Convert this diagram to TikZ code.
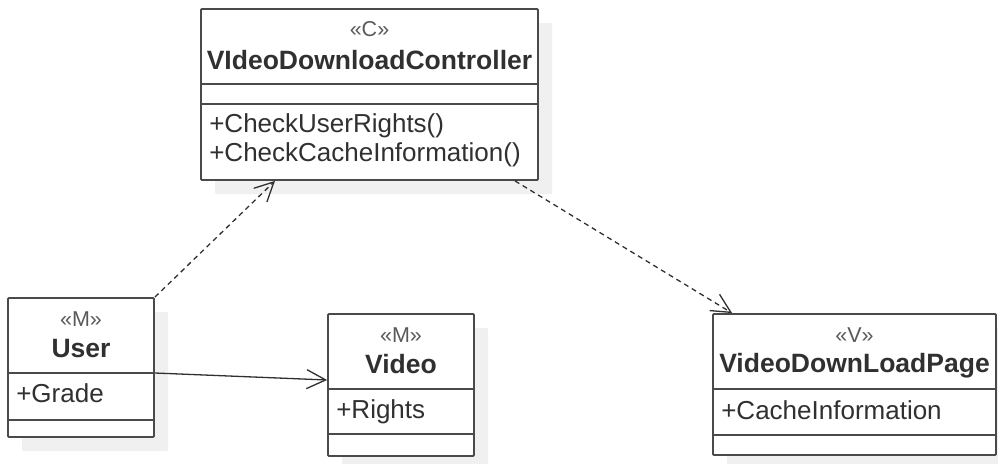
\documentclass[tikz,border=0pt]{standalone}
\usepackage{fontspec}
\setmainfont{Liberation Sans}
\usetikzlibrary{arrows.meta,calc,shadows}

\definecolor{frame}{HTML}{4A4A4A}
\definecolor{ink}{HTML}{303030}
\definecolor{stereoink}{HTML}{5A5A5A}
\definecolor{shade}{HTML}{F0F0F0}

\tikzset{
  classbox/.style={draw=frame, line width=1.8pt, fill=white, rounded corners=1pt,
    inner sep=0pt,
    drop shadow={shadow xshift=14pt, shadow yshift=-14pt, fill=shade, opacity=1}},
  sep/.style={draw=frame, line width=1.8pt},
  stereo/.style={inner sep=0pt, anchor=base, text=stereoink, font=\fontsize{21.5}{25}\selectfont},
  cname/.style={inner sep=0pt, anchor=base, text=ink, font=\fontsize{26.5}{30}\selectfont\bfseries},
  member/.style={inner sep=0pt, anchor=base west, text=ink, font=\fontsize{26}{30}\selectfont},
  barb/.style={-{Straight Barb[length=19pt,width=19pt,line width=1.3pt]}},
  dep/.style={barb, draw=ink, line width=1.3pt, dash pattern=on 5pt off 4pt},
  assoc/.style={barb, draw=ink, line width=1.3pt}
}

\begin{document}
\begin{tikzpicture}[x=1pt,y=-1pt]
\useasboundingbox (0,0) rectangle (998,463);

% class frames
\node[classbox, minimum width=337pt, minimum height=171pt] (ctrl) at (369.5,94.5) {};
\node[classbox, minimum width=146pt, minimum height=139pt] (user) at (81,367.5) {};
\node[classbox, minimum width=146pt, minimum height=142pt] (video) at (401,385) {};
\node[classbox, minimum width=283pt, minimum height=141pt] (page) at (854.5,384.5) {};

% compartment separators
\foreach \n/\a/\b in {ctrl/76/96, user/76/123, video/76/121, page/76/122} {
  \draw[sep] ($(\n.north west)+(0,\a)$) -- ($(\n.north east)+(0,\a)$);
  \draw[sep] ($(\n.north west)+(0,\b)$) -- ($(\n.north east)+(0,\b)$);
}

% controller
\node[stereo] (ctrl-st) at ($(ctrl.north)+(0,28)$) {«C»};
\node[cname] (ctrl-nm) at ($(ctrl.north)+(0,61)$) {VIdeoDownloadController};
\node[member] (ctrl-m1) at ($(ctrl.north west)+(9,124)$) {+CheckUserRights()};
\node[member] (ctrl-m2) at ($(ctrl.north west)+(9,153)$) {+CheckCacheInformation()};

% user
\node[stereo] (user-st) at ($(user.north)+(0,29)$) {«M»};
\node[cname] (user-nm) at ($(user.north)+(0,60)$) {User};
\node[member] (user-a1) at ($(user.north west)+(9,105)$) {+Grade};

% video
\node[stereo] (video-st) at ($(video.north)+(0,29)$) {«M»};
\node[cname] (video-nm) at ($(video.north)+(0,60)$) {Video};
\node[member] (video-a1) at ($(video.north west)+(9,105)$) {+Rights};

% download page
\node[stereo] (page-st) at ($(page.north)+(0,29)$) {«V»};
\node[cname] (page-nm) at ($(page.north)+(0,59)$) {VideoDownLoadPage};
\node[member] (page-a1) at ($(page.north west)+(9,106)$) {+CacheInformation};

% relations
\draw[dep] (user.north east) -- ([xshift=-94.5pt]ctrl.south);
\draw[assoc] ([yshift=-5.5pt]user.east) -- ([yshift=5pt]video.west);
\draw[dep] ([xshift=145.5pt]ctrl.south) -- ([xshift=20pt]page.north west);
\end{tikzpicture}
\end{document}
